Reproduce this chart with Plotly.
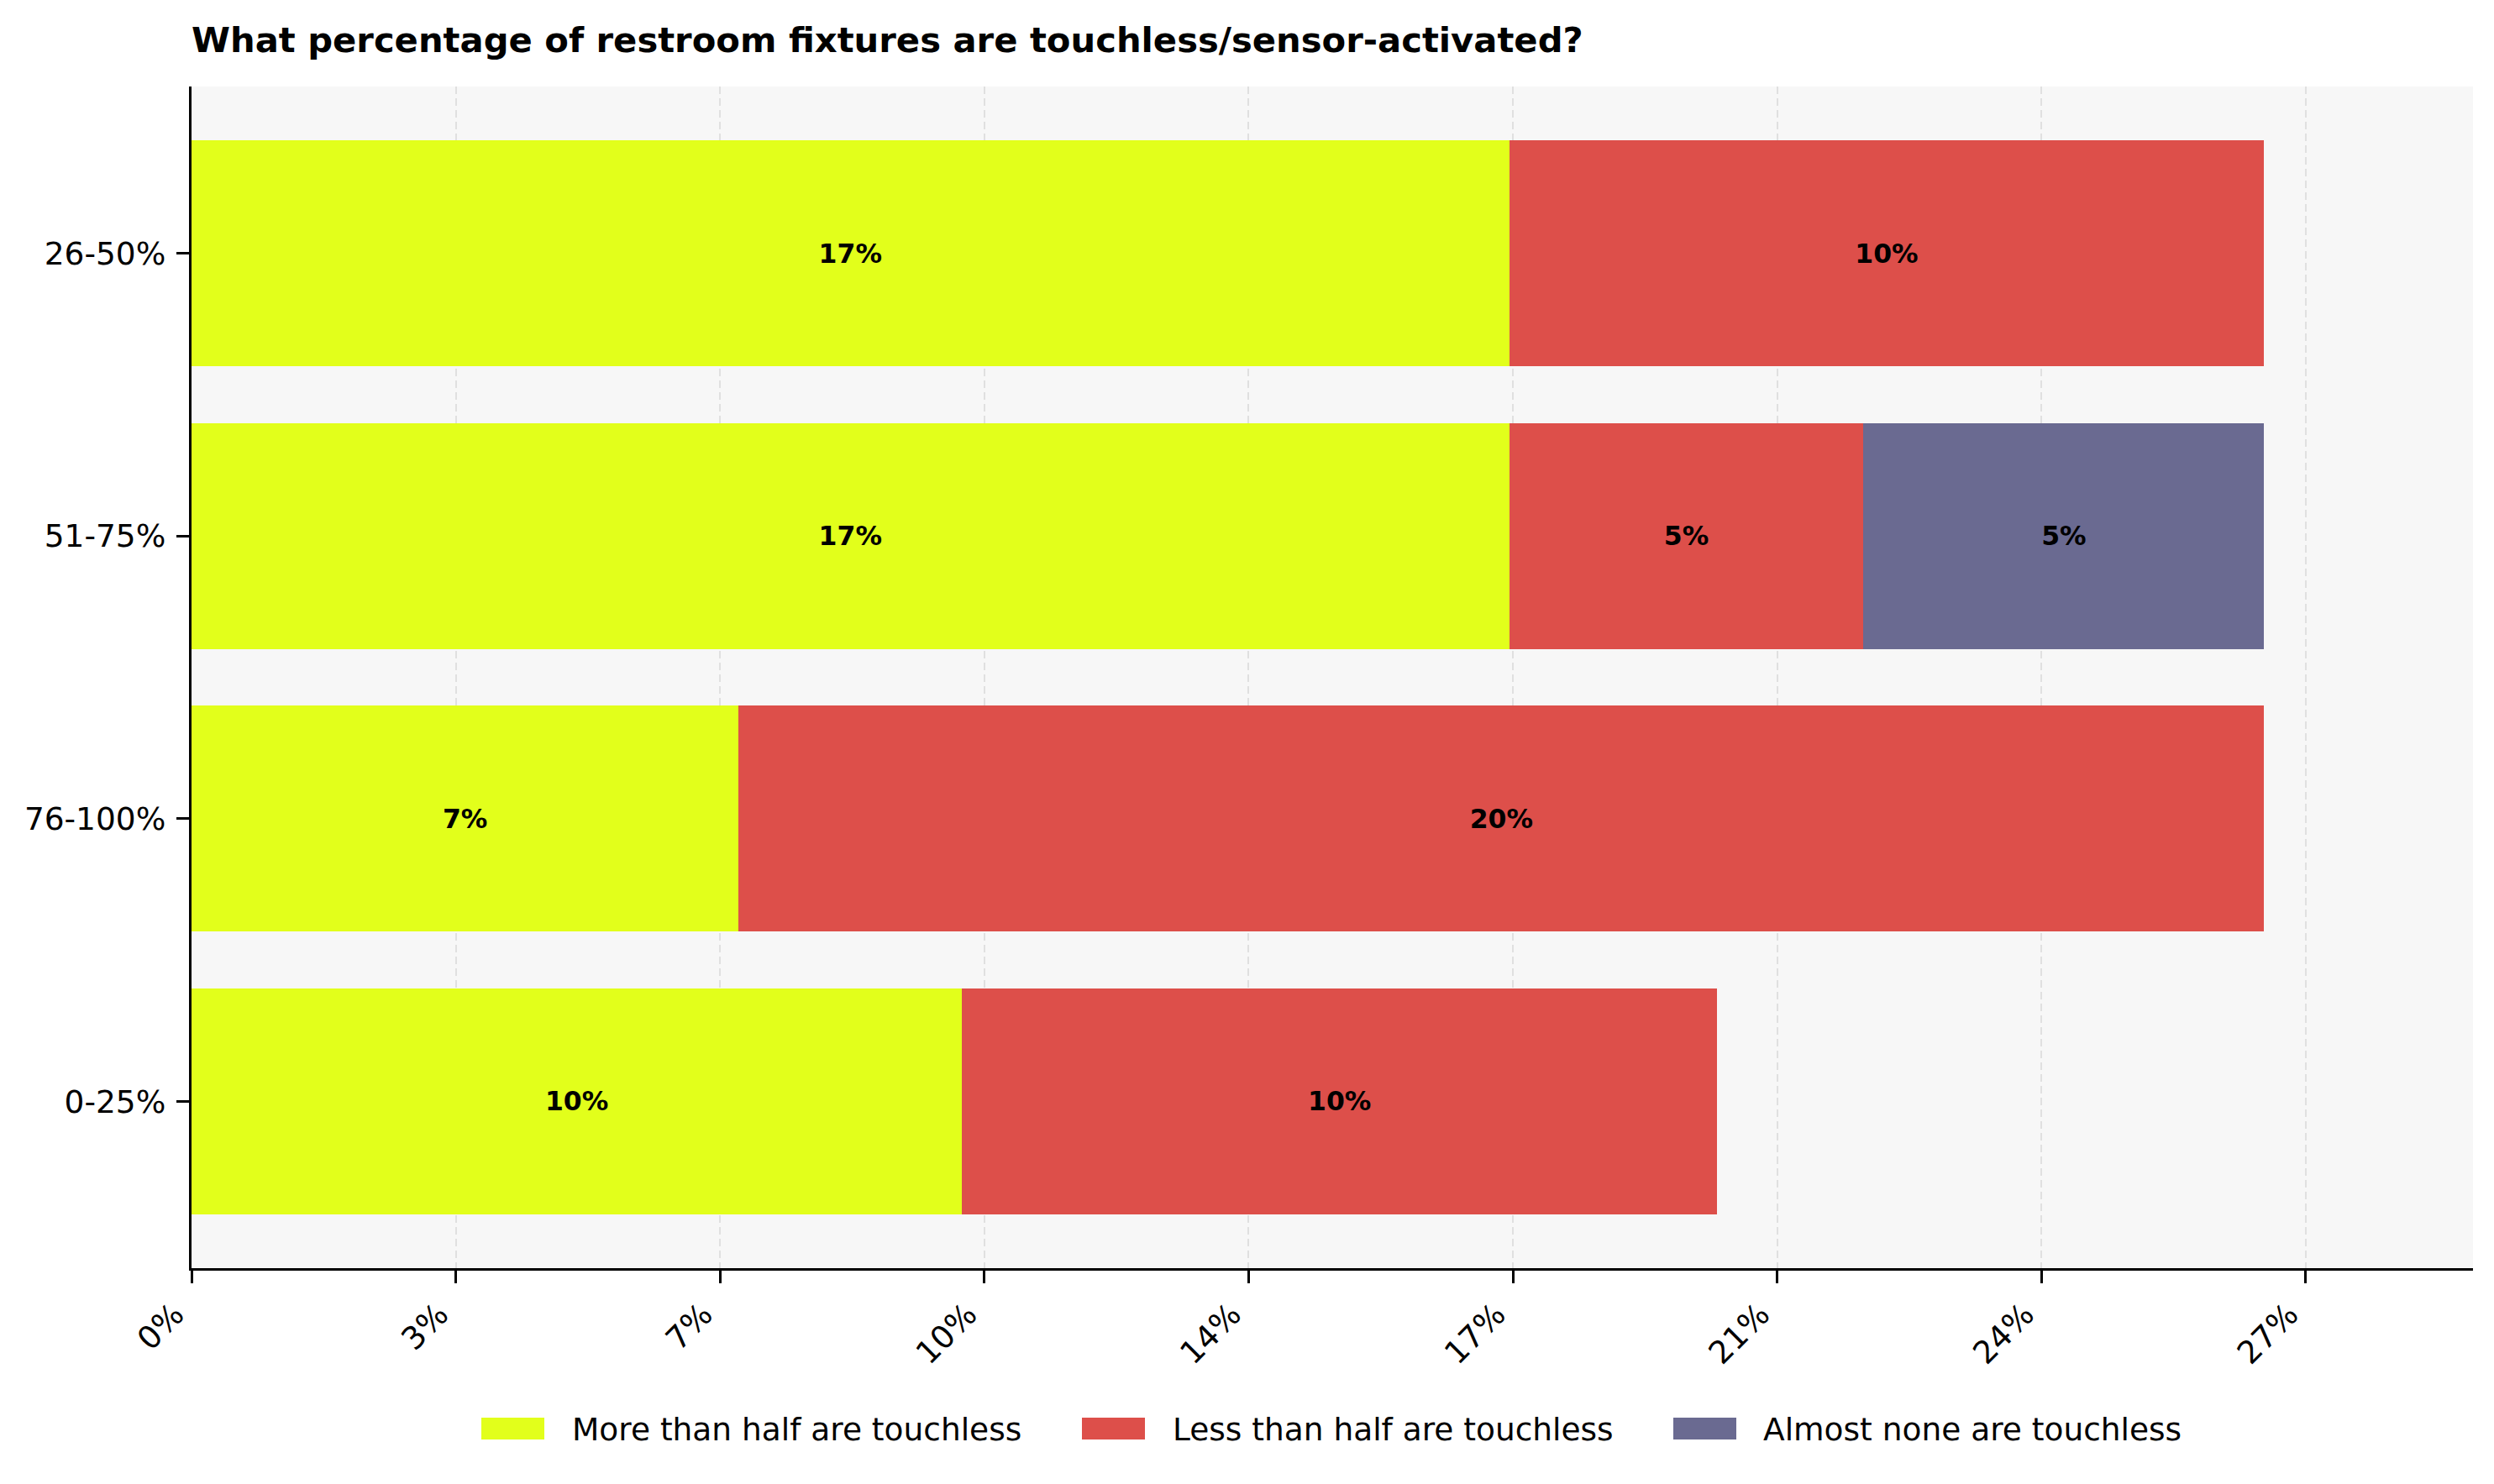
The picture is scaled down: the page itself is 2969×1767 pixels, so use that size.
import plotly.graph_objects as go

# data (percent of respondents)
ranges = ["0-25%", "76-100%", "51-75%", "26-50%"]
series_names = [
    "More than half are touchless",
    "Less than half are touchless",
    "Almost none are touchless",
]
more_than_half = [10.0, 7.1, 17.1, 17.1]
less_than_half = [9.8, 19.8, 4.6, 9.8]
almost_none = [None, None, 5.2, None]
tick_step = 3.43
tick_labels = ["0%", "3%", "7%", "10%", "14%", "17%", "21%", "24%", "27%"]

colors = ["#E2FF1B", "#DD4F4A", "#6A6A91"]
font = "DejaVu Sans"

fig = go.Figure()
for name, values, color in zip(
    series_names, [more_than_half, less_than_half, almost_none], colors
):
    fig.add_trace(
        go.Bar(
            y=ranges,
            x=values,
            name=name,
            orientation="h",
            width=0.8,
            marker=dict(color=color, line=dict(width=0)),
            text=[f"{v:.0f}%" if v else "" for v in values],
            textposition="inside",
            insidetextanchor="middle",
            textangle=0,
            constraintext="none",
            textfont=dict(family=font, size=31.5, color="black", weight="bold"),
            showlegend=False,
            hoverinfo="skip",
        )
    )

# legend drawn as swatches + labels below the axis (pixel positions of the reference)
plot_l, plot_r, plot_t, plot_b = 228, 2944, 103, 1510
pw, ph = plot_r - plot_l, plot_b - plot_t
legend_px = [(573, 679), (1288, 1394), (1992, 2097)]
shapes = []
annotations = []
for (sx, tx), name, color in zip(legend_px, series_names, colors):
    shapes.append(
        dict(
            type="rect",
            xref="paper",
            yref="paper",
            x0=(sx - plot_l) / pw,
            x1=(sx + 75 - plot_l) / pw,
            y0=(plot_b - 1714) / ph,
            y1=(plot_b - 1688) / ph,
            fillcolor=color,
            line=dict(width=0),
        )
    )
    annotations.append(
        dict(
            text=name,
            xref="paper",
            yref="paper",
            x=(tx - plot_l) / pw,
            y=(plot_b - 1702) / ph,
            xanchor="left",
            yanchor="middle",
            showarrow=False,
            font=dict(family=font, size=37.5, color="black"),
        )
    )

fig.update_layout(
    barmode="stack",
    width=2969,
    height=1767,
    margin=dict(l=plot_l, r=2969 - plot_r, t=plot_t, b=1767 - plot_b),
    paper_bgcolor="white",
    plot_bgcolor="#F7F7F7",
    font=dict(family=font, size=37.5, color="black"),
    title=dict(
        text="What percentage of restroom fixtures are touchless/sensor-activated?",
        x=plot_l / 2969,
        xanchor="left",
        xref="container",
        y=1 - 32.5 / 1767,
        yanchor="top",
        yref="container",
        font=dict(family=font, size=41.7, color="black", weight="bold"),
    ),
    shapes=shapes,
    annotations=annotations,
    showlegend=False,
)
fig.update_xaxes(
    range=[0, 29.61],
    tickvals=[i * tick_step for i in range(len(tick_labels))],
    ticktext=tick_labels,
    tickangle=-45,
    ticklabelshift=-20,
    ticks="outside",
    ticklen=15,
    tickwidth=3.3,
    tickcolor="black",
    showline=True,
    linecolor="black",
    linewidth=3.3,
    showgrid=True,
    gridcolor="#E0E0E0",
    gridwidth=2,
    griddash="9px,5px",
    zeroline=False,
    tickfont=dict(family=font, size=37.5, color="black"),
)
fig.update_yaxes(
    type="category",
    categoryorder="array",
    categoryarray=ranges,
    range=[-0.59, 3.59],
    ticks="outside",
    ticklen=15,
    tickwidth=3.3,
    tickcolor="black",
    ticklabelstandoff=5,
    showline=True,
    linecolor="black",
    linewidth=3.3,
    showgrid=False,
    zeroline=False,
    tickfont=dict(family=font, size=37.5, color="black"),
)

fig.write_html(
    "out.html",
    config={"displayModeBar": False},
    post_script="document.body.style.margin='0';",
)
